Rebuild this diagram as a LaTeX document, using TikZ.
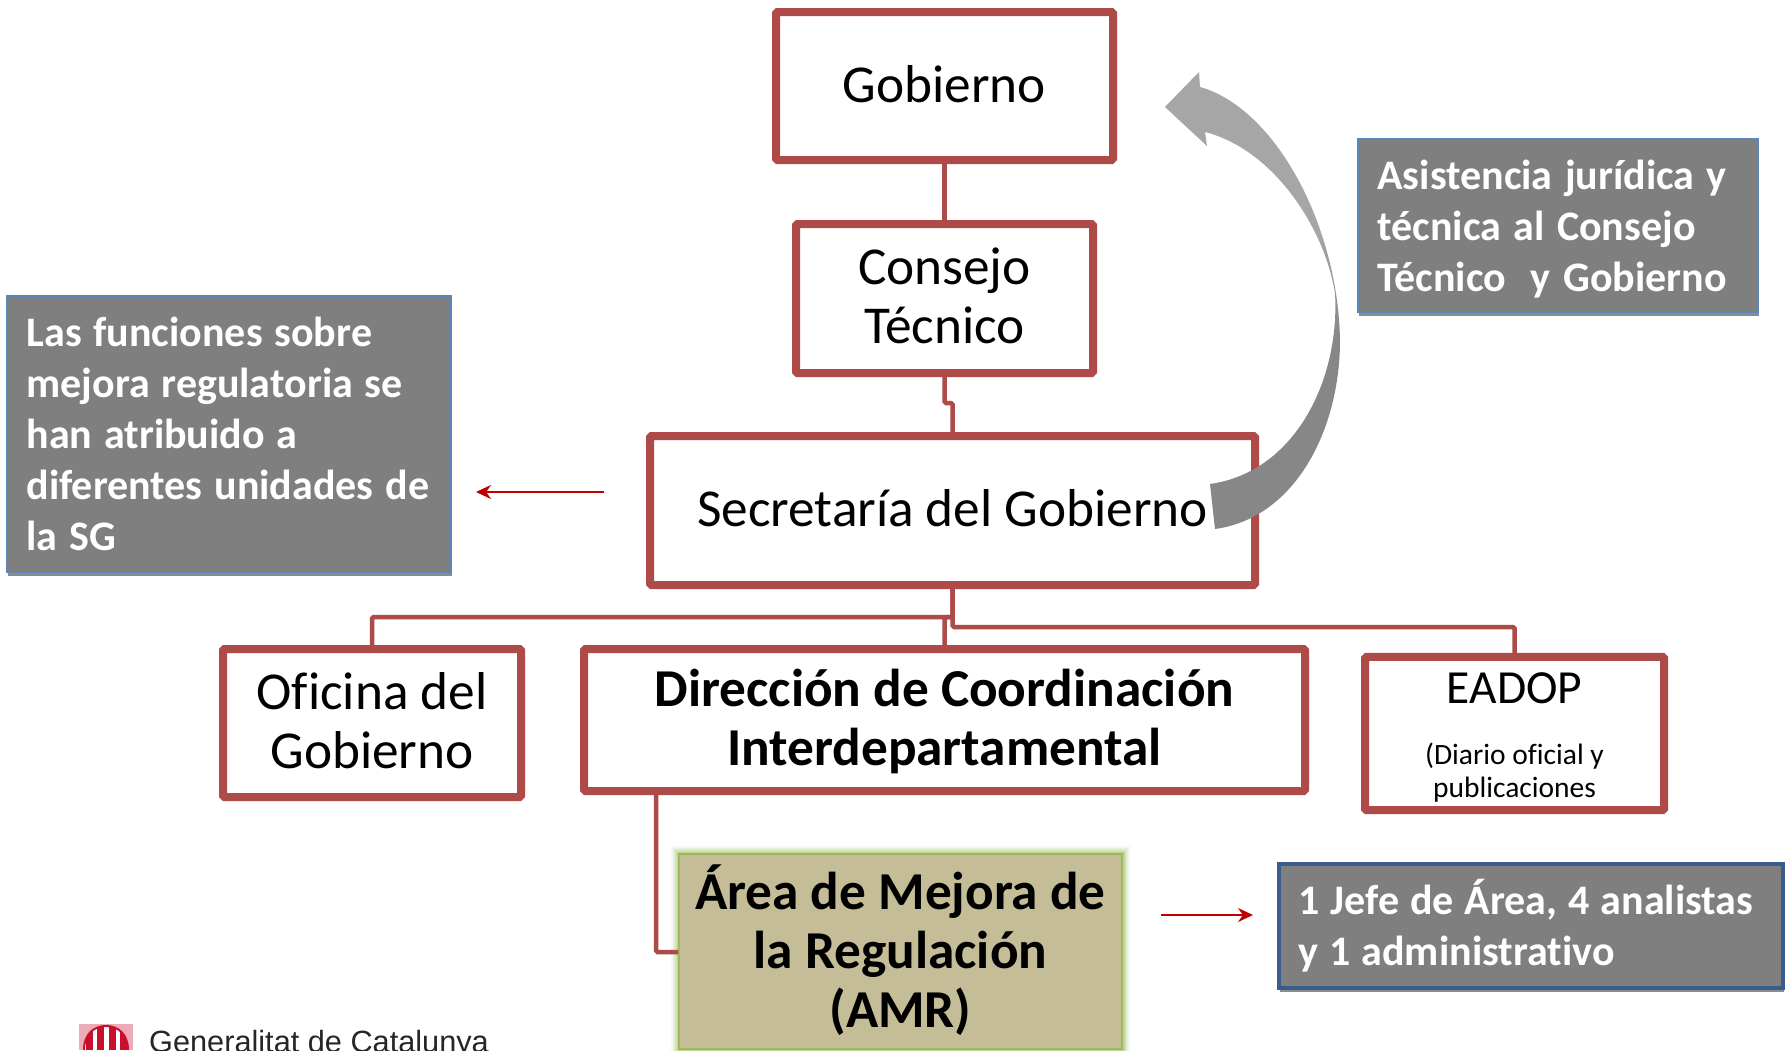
\documentclass[tikz,border=0pt]{standalone}
\usepackage{fontspec}
\setmainfont{Carlito}[Ligatures=NoCommon]
\newfontfamily\logofont{Liberation Sans}
\usetikzlibrary{shadows,arrows.meta}
\definecolor{boxred}{HTML}{AE4A47}
\definecolor{greyfill}{HTML}{7F7F7F}
\definecolor{blueline}{HTML}{5B85BD}
\definecolor{navyline}{HTML}{385D8A}
\definecolor{khaki}{HTML}{C4BD97}
\definecolor{greenline}{HTML}{9BBB59}
\definecolor{arrowred}{HTML}{C00000}
\definecolor{logored}{HTML}{C8102E}
\definecolor{arrowlow}{HTML}{878787}
\definecolor{arrowhigh}{HTML}{A6A6A6}
\pgfdeclareverticalshading{bentshade}{100bp}{color(0bp)=(arrowlow); color(46bp)=(arrowlow); color(57bp)=(arrowhigh); color(100bp)=(arrowhigh)}
\newcommand{\lift}[2]{\raisebox{#1}[\height][\depth]{\begin{tabular}{@{}c@{}}#2\end{tabular}}}
\newcommand{\notetext}[3]{\hspace*{10pt}\raisebox{#1}[\height][\depth]{\spaceskip=#2\relax\begin{tabular}{@{}l@{}}#3\end{tabular}}}
\tikzset{
  softshadow/.style={drop shadow={shadow xshift=1.5pt,shadow yshift=-3.5pt,opacity=.45,fill=black}},
  orgbox/.style={draw=boxred,line width=8pt,fill=white,rounded corners=1.5pt,align=center,inner sep=0pt,softshadow,
     font=\fontsize{53.3}{59}\selectfont},
  link/.style={draw=boxred,line width=4.5pt,rounded corners=1.5pt},
  notebox/.style={draw=blueline,line width=2pt,fill=greyfill,text=white,align=left,inner sep=0pt,softshadow,
     font=\bfseries\fontsize{42}{51}\selectfont},
  redarrow/.style={draw=arrowred,line width=1.8pt,-{Stealth[length=15pt,width=14pt]}},
}
\begin{document}
\begin{tikzpicture}[x=1pt,y=-1pt]
\useasboundingbox (0,0) rectangle (1785,1050);
\clip (0,0) rectangle (1785,1050);
\fill[white] (0,0) rectangle (1785,1050);
\coordinate (bendA) at (0,403);
\coordinate (busL) at (0,617);
\coordinate (busR) at (0,627);
\coordinate (bendB) at (0,952);
\coordinate (dropX) at (656,0);
\coordinate (ltail) at (604,492);
\coordinate (lhead) at (476,492);
\coordinate (rtail) at (1161,915);
\coordinate (rhead) at (1253,915);

\node[orgbox,minimum width=337pt,minimum height=148pt] (gob) at (944.5,86) {\lift{-5pt}{Gobierno}};
\node[orgbox,minimum width=297pt,minimum height=149pt] (cons) at (944.5,298.5) {\lift{-4pt}{Consejo\\Técnico}};
\node[orgbox,minimum width=605pt,minimum height=149pt] (sec) at (952.5,510.5) {\lift{-4pt}{Secretaría del Gobierno}};
\node[orgbox,minimum width=298pt,minimum height=148pt] (ofi) at (372,723) {\lift{-3.7pt}{Oficina del\\Gobierno}};
\node[orgbox,minimum width=721pt,minimum height=142pt,font=\bfseries\fontsize{53.3}{59}\selectfont] (dir) at (944.5,720) {\lift{-4pt}{Dirección de Coordinación\\Interdepartamental}};
\node[orgbox,minimum width=299pt,minimum height=149pt] (ead) at (1514.5,733.5) {\lift{-5pt}{\fontsize{47.5}{50}\selectfont EADOP\\[2.2pt]\fontsize{29.5}{33}\selectfont (Diario oficial y\\[-26pt]\fontsize{29.5}{33}\selectfont publicaciones}};

\draw[link] (gob.south) -- (cons.north);
\draw[link] (cons.south) -- (cons.south |- bendA) -- (sec.north |- bendA) -- (sec.north);
\draw[link] (sec.south) -- (sec.south |- busL) -- (ofi.north |- busL) -- (ofi.north);
\draw[link] (sec.south |- busL) -- (dir.north |- busL) -- (dir.north);
\draw[link] (sec.south) -- (sec.south |- busR) -- (ead.north |- busR) -- (ead.north);

\foreach \w/\o in {16/.10,12/.16,8/.24,5/.32}{
  \draw[greenline,line width=\w pt,opacity=\o] (679,854) rectangle (1122,1049);
}
\node[draw=greenline,line width=2pt,fill=khaki,align=center,inner sep=0pt,minimum width=443pt,minimum height=195pt,
  font=\bfseries\fontsize{53.3}{59}\selectfont] (amr) at (900.5,951.5) {\lift{-3.5pt}{Área de Mejora de\\la Regulación\\(AMR)}};
\draw[link] (dropX |- dir.south) -- (dropX |- bendB) -- (amr.west |- bendB);

\node[notebox,minimum width=444pt,minimum height=276pt,text width=424pt] (nl) at (228.5,434)
  {\notetext{-4.4pt}{11.8pt}{Las funciones sobre\\mejora regulatoria se\\han atribuido a\\diferentes unidades de\\la SG}};
\node[notebox,minimum width=400pt,minimum height=173pt,text width=380pt] (nt) at (1557.5,225.5)
  {\notetext{-4.4pt}{12.4pt}{Asistencia jurídica y\\técnica al Consejo\\Técnico\ \ y Gobierno}};
\node[notebox,draw=navyline,line width=4pt,minimum width=504pt,minimum height=124pt,text width=484pt] (nb) at (1530.5,926)
  {\notetext{-3.9pt}{11pt}{1 Jefe de Área, 4 analistas\\y 1 administrativo}};

\draw[redarrow] (ltail) -- (lhead);
\draw[redarrow] (rtail) -- (rhead);

\shade[shading=bentshade]
  (1215,529) .. controls (1295,518) and (1340,430) .. (1340,340)
  .. controls (1338,225) and (1275,108) .. (1200,87)
  -- (1199,72) -- (1165,107) -- (1207,146) -- (1205,132)
  .. controls (1275,150) and (1325,230) .. (1335,293)
  .. controls (1340,380) and (1295,472) .. (1210,484) -- cycle;

\begin{scope}
\fill[logored!35!white] (79,1024) rectangle (133,1050);
\fill[white] (84,1050) .. controls (84,1034) and (94,1026) .. (106,1026) .. controls (118,1026) and (128,1034) .. (128,1050) -- cycle;
\draw[logored,line width=2pt] (84,1050) .. controls (84,1034) and (94,1026) .. (106,1026) .. controls (118,1026) and (128,1034) .. (128,1050);
\clip (84,1050) .. controls (84,1034) and (94,1026) .. (106,1026) .. controls (118,1026) and (128,1034) .. (128,1050) -- cycle;
\foreach \x in {89,100,112,123}{\fill[logored] (\x-3.5,1024) rectangle (\x+3.5,1050);}
\end{scope}
\node[anchor=base west,inner sep=0pt,text=black!85,font=\logofont\fontsize{30.7}{35}\selectfont] (gen) at (149,1052) {Generalitat de Catalunya};
\end{tikzpicture}
\end{document}
